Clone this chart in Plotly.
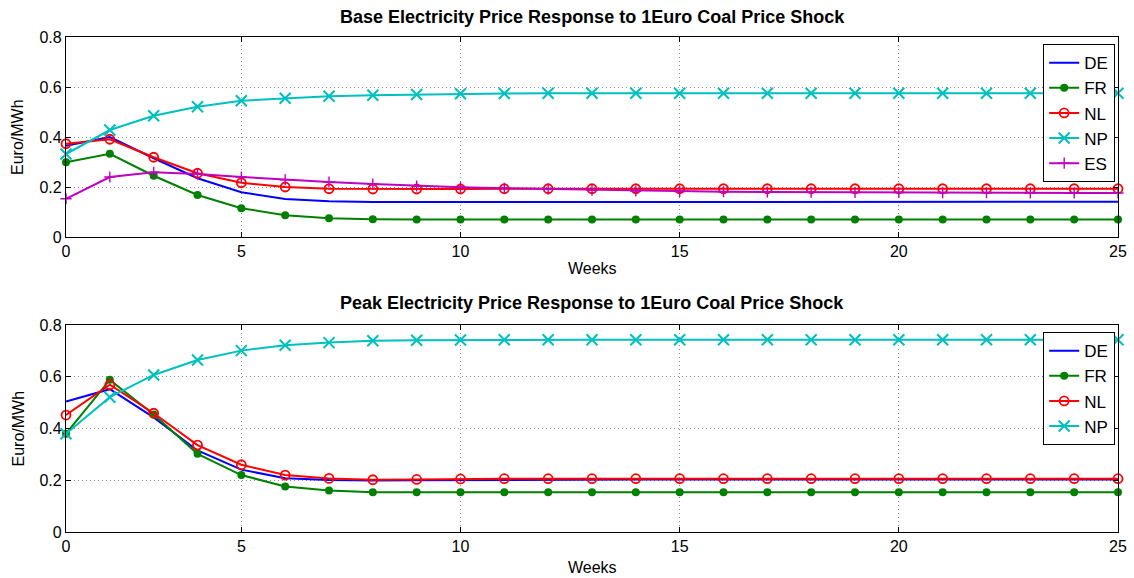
import plotly.graph_objects as go
from plotly.subplots import make_subplots

# Week index 1..25 (axis labels show 0, 5, ..., 25)
weeks = list(range(1, 26))
tick_vals = [1, 5, 10, 15, 20, 25]
tick_text = ["0", "5", "10", "15", "20", "25"]

# Base electricity price response (Euro/MWh)
base_de = [0.365, 0.400, 0.315, 0.235, 0.179, 0.152, 0.143, 0.140, 0.140, 0.140, 0.141, 0.141, 0.141,
           0.141, 0.141, 0.141, 0.141, 0.141, 0.141, 0.141, 0.141, 0.141, 0.141, 0.141, 0.141]
base_fr = [0.299, 0.333, 0.245, 0.168, 0.115, 0.087, 0.075, 0.071, 0.070, 0.070, 0.070, 0.070, 0.070,
           0.070, 0.070, 0.070, 0.070, 0.070, 0.070, 0.070, 0.070, 0.070, 0.070, 0.070, 0.070]
base_nl = [0.373, 0.391, 0.319, 0.255, 0.217, 0.200, 0.193, 0.192, 0.192, 0.192, 0.193, 0.193, 0.193,
           0.193, 0.193, 0.193, 0.193, 0.193, 0.193, 0.193, 0.193, 0.193, 0.193, 0.193, 0.193]
base_np = [0.332, 0.428, 0.485, 0.521, 0.545, 0.555, 0.563, 0.567, 0.570, 0.573, 0.574, 0.575, 0.575,
           0.575, 0.575, 0.575, 0.575, 0.575, 0.575, 0.575, 0.575, 0.575, 0.575, 0.575, 0.575]
base_es = [0.153, 0.240, 0.259, 0.252, 0.240, 0.229, 0.220, 0.212, 0.204, 0.199, 0.195, 0.192, 0.187,
           0.184, 0.182, 0.181, 0.180, 0.179, 0.178, 0.178, 0.177, 0.177, 0.176, 0.176, 0.176]

# Peak electricity price response (Euro/MWh)
peak_de = [0.504, 0.552, 0.443, 0.315, 0.241, 0.208, 0.201, 0.199, 0.200, 0.201, 0.202, 0.203, 0.203,
           0.203, 0.203, 0.203, 0.203, 0.203, 0.203, 0.203, 0.203, 0.203, 0.203, 0.203, 0.203]
peak_fr = [0.380, 0.588, 0.454, 0.302, 0.220, 0.176, 0.160, 0.154, 0.154, 0.154, 0.154, 0.154, 0.154,
           0.154, 0.154, 0.154, 0.154, 0.154, 0.154, 0.154, 0.154, 0.154, 0.154, 0.154, 0.154]
peak_nl = [0.452, 0.569, 0.459, 0.336, 0.260, 0.220, 0.207, 0.202, 0.203, 0.205, 0.206, 0.206, 0.206,
           0.206, 0.206, 0.206, 0.206, 0.206, 0.206, 0.206, 0.206, 0.206, 0.206, 0.206, 0.206]
peak_np = [0.380, 0.521, 0.607, 0.665, 0.701, 0.722, 0.732, 0.739, 0.741, 0.742, 0.743, 0.743, 0.743,
           0.743, 0.743, 0.743, 0.743, 0.743, 0.743, 0.743, 0.743, 0.743, 0.743, 0.743, 0.743]

BLUE, GREEN, RED, CYAN, MAGENTA = "#0000ff", "#008000", "#ff0000", "#00bfbf", "#bf00bf"
FONT = "Liberation Sans, Arial, Helvetica, sans-serif"

styles = {
    "DE": dict(color=BLUE, mode="lines", marker=None),
    "FR": dict(color=GREEN, mode="lines+markers",
               marker=dict(symbol="circle", size=8, color=GREEN)),
    "NL": dict(color=RED, mode="lines+markers",
               marker=dict(symbol="circle-open", size=9, color=RED, line=dict(width=1.8, color=RED))),
    "NP": dict(color=CYAN, mode="lines+markers",
               marker=dict(symbol="x-thin", size=11, color=CYAN, line=dict(width=2, color=CYAN))),
    "ES": dict(color=MAGENTA, mode="lines+markers",
               marker=dict(symbol="cross-thin", size=8, color=MAGENTA, line=dict(width=1.4, color=MAGENTA))),
}

fig = make_subplots(rows=2, cols=1)


def add_series(name, values, row, legend):
    s = styles[name]
    kw = dict(x=weeks, y=values, name=name, mode=s["mode"],
              line=dict(color=s["color"], width=2), legend=legend, cliponaxis=False)
    if s["marker"] is not None:
        kw["marker"] = s["marker"]
    fig.add_trace(go.Scatter(**kw), row=row, col=1)


for name, vals in [("DE", base_de), ("FR", base_fr), ("NL", base_nl), ("NP", base_np), ("ES", base_es)]:
    add_series(name, vals, 1, "legend")
for name, vals in [("DE", peak_de), ("FR", peak_fr), ("NL", peak_nl), ("NP", peak_np)]:
    add_series(name, vals, 2, "legend2")

W, H = 1134, 578
L, R = 66, 1118
top1, bot1 = 37, 237
top2, bot2 = 325, 532

axis_common = dict(showline=True, linecolor="black", linewidth=1.2, mirror="ticks",
                   ticks="inside", ticklen=5, tickcolor="black", automargin=False,
                   showgrid=True, gridcolor="#8c8c8c", griddash="1px,3px", gridwidth=1,
                   zeroline=False, tickfont=dict(size=16, color="black", family=FONT))

fig.update_xaxes(**axis_common, range=[1, 25], tickvals=tick_vals, ticktext=tick_text,
                 domain=[L / W, R / W])
fig.update_yaxes(**axis_common, range=[0, 0.8], tickvals=[0, 0.2, 0.4, 0.6, 0.8],
                 ticktext=["0", "0.2", "0.4", "0.6", "0.8"])

fig.update_layout(
    yaxis=dict(domain=[1 - bot1 / H, 1 - top1 / H]),
    yaxis2=dict(domain=[1 - bot2 / H, 1 - top2 / H]),
)

legend_common = dict(bgcolor="white", bordercolor="black", borderwidth=1.2,
                     font=dict(size=17, family=FONT, color="black"),
                     xanchor="right", yanchor="top", tracegroupgap=0, itemwidth=30)
fig.update_layout(
    legend=dict(**legend_common, x=1115 / W, y=1 - 44 / H),
    legend2=dict(**legend_common, x=1115 / W, y=1 - 332 / H),
)

center = (L + R) / 2 / W
label_font = dict(size=16, family=FONT, color="black")
for text, ypx in [("Base Electricity Price Response to 1Euro Coal Price Shock", 17),
                  ("Peak Electricity Price Response to 1Euro Coal Price Shock", 303)]:
    fig.add_annotation(text=f"<b>{text}</b>", x=center, y=1 - ypx / H, xref="paper", yref="paper",
                       showarrow=False, xanchor="center", yanchor="middle",
                       font=dict(size=18, family=FONT, color="black"))

# Axis titles
for ypx in (268, 567):
    fig.add_annotation(text="Weeks", x=center, y=1 - ypx / H, xref="paper", yref="paper",
                       showarrow=False, xanchor="center", yanchor="middle", font=label_font)
for top, bot in ((top1, bot1), (top2, bot2)):
    fig.add_annotation(text="Euro/MWh", x=18 / W, y=1 - (top + bot) / 2 / H, xref="paper", yref="paper",
                       showarrow=False, xanchor="center", yanchor="middle", textangle=-90, font=label_font)

fig.update_layout(width=W, height=H, margin=dict(l=0, r=0, t=0, b=0),
                  paper_bgcolor="white", plot_bgcolor="white", showlegend=True,
                  font=dict(family=FONT, color="black"))

fig.write_html("out.html")
